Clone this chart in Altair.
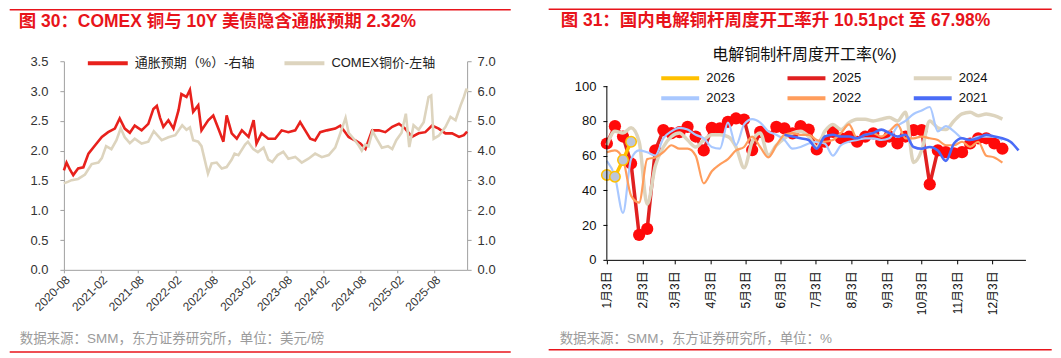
import altair as alt
import pandas as pd

FONT = "Liberation Sans, Noto Sans CJK SC, sans-serif"
TITLE_RED = "#e8141b"
SRC_GRAY = "#9b9b9b"

# ---------------- Left panel data (figure 30) ----------------
infl_dates = [
    "2020-08-01", "2020-08-14", "2020-08-31", "2020-09-16", "2020-10-10", "2020-11-05",
    "2020-11-30", "2021-01-02", "2021-02-04", "2021-03-07", "2021-04-09", "2021-05-03",
    "2021-05-28", "2021-06-22", "2021-07-16", "2021-08-19", "2021-09-21", "2021-10-16",
    "2021-11-02", "2021-11-18", "2021-12-04", "2021-12-29", "2022-01-23", "2022-02-17",
    "2022-03-03", "2022-03-28", "2022-04-14", "2022-04-30", "2022-05-25", "2022-06-10",
    "2022-07-13", "2022-08-07", "2022-09-01", "2022-09-26", "2022-10-12", "2022-11-06",
    "2022-12-01", "2022-12-26", "2023-01-28", "2023-02-22", "2023-03-08", "2023-04-02",
    "2023-05-05", "2023-06-08", "2023-07-10", "2023-08-12", "2023-09-15", "2023-10-09",
    "2023-11-03", "2023-11-28", "2023-12-22", "2024-01-16", "2024-02-18", "2024-03-30",
    "2024-04-24", "2024-06-04", "2024-07-07", "2024-08-01", "2024-08-26", "2024-09-28",
    "2024-10-31", "2024-12-02", "2025-01-05", "2025-02-07", "2025-03-10", "2025-04-12",
    "2025-05-15", "2025-06-17", "2025-07-20", "2025-08-22", "2025-09-24", "2025-10-27",
    "2025-11-30", "2025-12-24", "2026-01-09",
]
infl_vals = [
    1.67, 1.80, 1.68, 1.59, 1.70, 1.72,
    1.95, 2.09, 2.23, 2.31, 2.37, 2.54,
    2.37, 2.30, 2.42, 2.34, 2.45, 2.70,
    2.75, 2.55, 2.40, 2.51, 2.37, 2.68,
    2.95, 2.90, 3.02, 2.65, 2.76, 2.34,
    2.51, 2.59, 2.37, 2.15, 2.59, 2.29,
    2.20, 2.34, 2.23, 2.51, 2.12, 2.29,
    2.20, 2.20, 2.34, 2.31, 2.34, 2.48,
    2.34, 2.20, 2.17, 2.31, 2.34, 2.37,
    2.42, 2.23, 2.17, 2.12, 2.03, 2.34,
    2.34, 2.31, 2.40, 2.45, 2.37, 2.23,
    2.29, 2.31, 2.42, 2.37, 2.29, 2.29,
    2.23, 2.26, 2.32,
]

cu_dates = [
    "2020-08-01", "2020-08-20", "2020-09-08", "2020-10-10", "2020-11-13", "2020-12-16",
    "2021-01-18", "2021-02-04", "2021-02-25", "2021-03-23", "2021-04-17", "2021-05-08",
    "2021-05-28", "2021-06-22", "2021-07-16", "2021-08-19", "2021-09-21", "2021-10-18",
    "2021-11-26", "2021-12-29", "2022-02-01", "2022-03-07", "2022-03-28", "2022-04-14",
    "2022-04-30", "2022-05-25", "2022-06-10", "2022-06-24", "2022-07-12", "2022-07-30",
    "2022-08-24", "2022-09-18", "2022-10-12", "2022-11-06", "2022-11-20", "2022-12-09",
    "2023-01-11", "2023-01-25", "2023-02-20", "2023-03-15", "2023-04-12", "2023-05-05",
    "2023-05-25", "2023-06-20", "2023-07-18", "2023-08-12", "2023-09-15", "2023-10-17",
    "2023-11-19", "2023-12-22", "2024-01-24", "2024-02-27", "2024-03-30", "2024-04-20",
    "2024-05-20", "2024-06-04", "2024-06-29", "2024-07-23", "2024-08-08", "2024-08-25",
    "2024-09-10", "2024-09-30", "2024-10-20", "2024-11-15", "2024-12-15", "2025-01-05",
    "2025-01-25", "2025-02-20", "2025-03-13", "2025-03-30", "2025-04-20", "2025-05-15",
    "2025-06-09", "2025-07-03", "2025-07-16", "2025-07-28", "2025-08-22", "2025-09-24",
    "2025-10-19", "2025-11-13", "2025-12-08", "2025-12-24", "2026-01-06", "2026-01-09",
]
cu_vals = [
    2.90, 2.95, 3.01, 3.05, 3.20, 3.55,
    3.60, 3.75, 4.15, 4.05, 4.35, 4.75,
    4.45, 4.25, 4.40, 4.24, 4.30, 4.65,
    4.35, 4.45, 4.52, 4.85, 4.70, 4.78,
    4.35, 4.30, 4.15, 3.75, 3.23, 3.57,
    3.60, 3.40, 3.45, 3.70, 3.90, 3.85,
    4.20, 4.30, 4.05, 3.95, 4.10, 3.70,
    3.62, 3.85, 3.96, 3.73, 3.79, 3.60,
    3.73, 3.90, 3.78, 3.85, 4.10, 4.50,
    5.10, 4.60, 4.40, 4.18, 4.00, 4.20,
    4.15, 4.65, 4.40, 4.10, 4.15, 4.05,
    4.35, 4.60, 5.24, 4.12, 4.85, 4.70,
    4.95, 5.80, 5.85, 4.40, 4.50, 4.79,
    5.13, 5.02, 5.52, 5.80, 6.08, 5.96,
]

left_series = ["通胀预期（%）-右轴", "COMEX铜价-左轴"]
left_colors = ["#e8211c", "#ddd4be"]
left_tick_months = [(2020, 8), (2021, 2), (2021, 8), (2022, 2), (2022, 8), (2023, 2),
                    (2023, 8), (2024, 2), (2024, 8), (2025, 2), (2025, 8)]
left_y_ticks = [0.0, 0.5, 1.0, 1.5, 2.0, 2.5, 3.0, 3.5]
right_y_ticks = [0.0, 1.0, 2.0, 3.0, 4.0, 5.0, 6.0, 7.0]

# ---------------- Right panel data (figure 31) ----------------
years = ["2026", "2025", "2024", "2023", "2022", "2021"]
year_colors = ["#ffc000", "#e02020", "#ddd4be", "#a9c8ff", "#ff9d5c", "#4a6cf7"]
series_start = {"2026": "2025-01-03", "2025": "2025-01-03", "2024": "2025-01-03",
                "2023": "2025-01-03", "2022": "2025-01-03", "2021": "2025-06-06"}
v2026 = [48.9, 47.9, 57.47, 67.98]
v2025 = [67, 77, 71, 55.5, 14.4, 17.8, 63, 74.7, 73, 73.5,
         76.6, 71, 63, 76, 75.7, 79.5, 81.4, 80.8, 63.2, 73.7,
         70.9, 76.6, 75.7, 72.8, 77, 75, 63.6, 68, 73.7, 70,
         70.9, 68, 70.9, 72.8, 68, 71, 67, 71, 74.7, 74.7,
         43.5, 63, 62, 61.3, 62, 67, 70, 70, 67, 64]
v2024 = [66, 74, 73, 76, 68, 32, 54, 65, 71, 73,
         69, 65, 69, 72, 72, 71, 65, 53, 68, 73,
         60, 66, 70, 73, 74, 71, 65, 74, 78, 75,
         79, 81, 81, 80, 81, 82, 80, 85, 56, 63,
         80, 76, 75, 80, 84, 85, 83, 84, 83, 81]
v2023 = [57, 48, 27, 58, 63, 62, 60, 70, 74, 76,
         75, 72, 70, 65, 64, 79, 66, 78, 81, 79,
         74, 72, 69, 64, 65, 67, 68, 67, 60, 66,
         68, 69, 70, 70, 69, 70, 77, 80, 84, 86,
         88, 74, 77, 74, 70, 69, 71, 71, 71, 69]
v2022 = [62, 63, 58, 37, 33, 58, 59, 62, 66, 64,
         64, 60, 44, 51, 55, 58, 63, 65, 71, 65,
         59, 66, 72, 73, 72, 72, 69, 68, 69, 73,
         78, 70, 72, 73, 71, 74, 78, 70, 70, 71,
         70, 69, 66, 66, 68, 65, 68, 60, 59, 56]
v2021 = [72, 71, 70, 69, 64, 71, 72, 71, 71, 70,
         72, 73, 75, 73, 71, 72, 65, 64, 65, 63,
         57, 67, 70, 69, 70, 72, 71, 70, 68, 63]
month_ticks = list(range(1, 13))
rate_ticks = [0, 20, 40, 60, 80, 100]


def utc(y, m, d):
    return alt.DateTime(year=y, month=m, date=d, utc=True)


dummy = pd.DataFrame({"k": [0]})


def rule(x1, x2, y, color=TITLE_RED, width=1.5):
    return alt.Chart(dummy).mark_rule(color=color, strokeWidth=width).encode(
        x=alt.value(x1), x2=alt.value(x2), y=alt.value(y))


def label(t, x, y, size, color, weight="normal", align="left"):
    return alt.Chart(dummy).mark_text(
        text=t, align=align, baseline="middle", fontSize=size, color=color,
        font=FONT, fontWeight=weight).encode(x=alt.value(x), y=alt.value(y))


# ---------------- Left chart ----------------
LW, LH = 404, 209
df_inf = pd.DataFrame({"date": infl_dates, "value": infl_vals, "series": left_series[0]})
df_cu = pd.DataFrame({"date": cu_dates, "value": cu_vals, "series": left_series[1]})

left_legend = alt.Legend(
    title=None, orient="none", legendX=22, legendY=-6, direction="horizontal",
    symbolType="stroke", symbolSize=1600, symbolStrokeWidth=4, labelFontSize=13,
    labelFont=FONT, labelColor="#222222", columnPadding=28, clipHeight=16,
    labelOffset=5, padding=0)
color_left = alt.Color("series:N", scale=alt.Scale(domain=left_series, range=left_colors),
                       legend=left_legend)

x_left = alt.X(
    "date:T",
    scale=alt.Scale(domain=[utc(2020, 8, 1), utc(2026, 1, 9)]),
    axis=alt.Axis(title=None, values=[utc(y, m, 1) for y, m in left_tick_months],
                  labelExpr="utcFormat(datum.value, '%Y-%m')", labelAngle=-45,
                  labelAlign="right", labelBaseline="top", labelFontSize=12,
                  labelColor="#333333", grid=False, domainColor="#a0a0a0",
                  tickColor="#a0a0a0", tickSize=3, labelPadding=1, labelOverlap=False))

inf_line = alt.Chart(df_inf).mark_line(strokeWidth=2.6).encode(
    x=x_left,
    y=alt.Y("value:Q", scale=alt.Scale(domain=[0, 3.5]),
            axis=alt.Axis(title=None, orient="left", values=left_y_ticks, format=".1f",
                          grid=False, labelFontSize=13, labelColor="#333333",
                          domainColor="#a0a0a0", tickColor="#a0a0a0", tickSize=4,
                          labelPadding=12)),
    color=color_left)

cu_line = alt.Chart(df_cu).mark_line(strokeWidth=2.6).encode(
    x=x_left,
    y=alt.Y("value:Q", scale=alt.Scale(domain=[0, 7]),
            axis=alt.Axis(title=None, orient="right", values=right_y_ticks, format=".1f",
                          grid=False, labelFontSize=13, labelColor="#333333",
                          domainColor="#a0a0a0", tickColor="#a0a0a0", tickSize=4,
                          labelPadding=6)),
    color=color_left)

left = alt.layer(
    rule(-54.3, 447.7, -51.7),
    rule(-54.3, 447.7, 291.3),
    label("图 30：COMEX 铜与 10Y 美债隐含通胀预期 2.32%", -45.3, -39.7, 17.5, TITLE_RED, "bold"),
    label("数据来源：SMM，东方证券研究所，单位：美元/磅", -44.3, 278.3, 13.5, SRC_GRAY),
    inf_line, cu_line,
).resolve_scale(y="independent").properties(width=LW, height=LH)

# ---------------- Right chart ----------------
# view spans page y 61..260 so that its top lines up with the left panel; 100 sits at y=86
RW, RH = 419.4, 199
Y_TOP = 100 * 199 / 174
frames = {}
vals = {"2026": v2026, "2025": v2025, "2024": v2024, "2023": v2023, "2022": v2022, "2021": v2021}
for yname in years:
    d = pd.date_range(series_start[yname], periods=len(vals[yname]), freq="7D").strftime("%Y-%m-%d")
    frames[yname] = pd.DataFrame({"date": list(d), "value": vals[yname], "year": yname})

right_legend = alt.Legend(
    title=None, orient="none", legendX=52.5, legendY=9, direction="horizontal", columns=3,
    symbolType="stroke", symbolSize=1444, symbolStrokeWidth=4, labelFontSize=13,
    labelFont=FONT, labelColor="#111111", columnPadding=50.5, rowPadding=4, clipHeight=16,
    labelOffset=5, padding=0)
color_right = alt.Color("year:N", scale=alt.Scale(domain=years, range=year_colors),
                        legend=right_legend)

x_right = alt.X(
    "date:T",
    scale=alt.Scale(domain=[utc(2025, 1, 3), utc(2026, 1, 1)]),
    axis=alt.Axis(title=None, values=[utc(2025, m, 3) for m in month_ticks],
                  labelExpr="(utcmonth(datum.value) + 1) + '月' + utcdate(datum.value) + '日'",
                  labelAngle=270, labelAlign="right", labelBaseline="middle",
                  labelFontSize=12, labelColor="#111111", grid=False, labelOverlap=False,
                  domainColor="#000000", tickColor="#000000", tickSize=4, labelPadding=7))
y_right = alt.Y("value:Q", scale=alt.Scale(domain=[0, Y_TOP], nice=False),
                axis=alt.Axis(title=None, values=rate_ticks, grid=False, labelFontSize=13,
                              labelColor="#111111", domain=False,
                              tickColor="#000000", tickSize=4, labelPadding=7))

# vertical axis line that stops at 100, like the reference
axis_span = pd.DataFrame({"value": [rate_ticks[0]], "value2": [rate_ticks[-1]]})
axis_line = alt.Chart(axis_span).mark_rule(color="#000000", strokeWidth=1).encode(
    x=alt.value(0), y=y_right, y2="value2:Q")


def yline(yname, width, interp):
    return alt.Chart(frames[yname]).mark_line(strokeWidth=width, interpolate=interp).encode(
        x=x_right, y=y_right, color=color_right)


p2025 = alt.Chart(frames["2025"]).mark_circle(size=150, color="#ff0a0a", opacity=1).encode(
    x=x_right, y=y_right)
p2026 = alt.Chart(frames["2026"]).mark_point(
    size=110, filled=True, fill="#bcc6da", stroke="#ffc000", strokeWidth=1.5, opacity=1).encode(
    x=x_right, y=y_right)

right = alt.layer(
    rule(-58.3, 445.7, -52),
    rule(-58.3, 445.7, 289),
    label("图 31：国内电解铜杆周度开工率升 10.51pct 至 67.98%", -46.3, -40, 17.5, TITLE_RED, "bold"),
    label("电解铜制杆周度开工率(%)", 198, -6.5, 16, "#111111", align="center"),
    label("数据来源：SMM，东方证券研究所，单位：%", -47.3, 278, 13.5, SRC_GRAY),
    yline("2025", 3.5, "linear"),
    p2025,
    yline("2024", 3.5, "monotone"),
    yline("2023", 2.2, "monotone"),
    yline("2022", 2.2, "monotone"),
    yline("2021", 2.6, "monotone"),
    yline("2026", 3.5, "linear"),
    p2026,
    axis_line,
).properties(width=RW, height=RH)

chart = alt.hconcat(left, right, spacing=35).resolve_scale(
    color="independent", x="independent", y="independent").properties(padding=0).configure_view(
    stroke=None).configure_axis(labelFont=FONT).configure_legend(labelFont=FONT)

chart.save("out.html", embed_options={"renderer": "svg", "actions": False})
